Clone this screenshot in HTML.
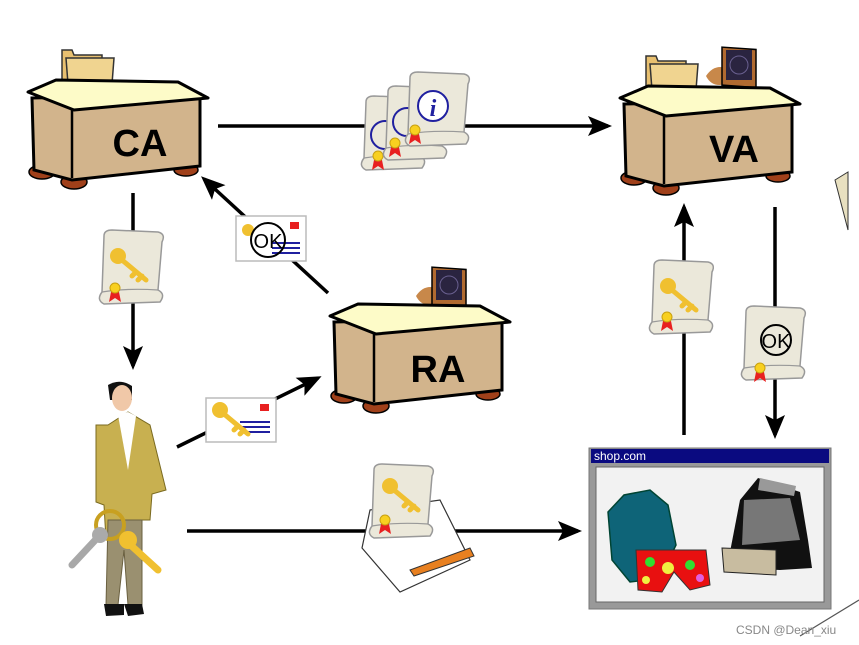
<!DOCTYPE html>
<html><head><meta charset="utf-8"><style>body{margin:0;background:#fff}svg{display:block}</style></head><body>
<svg width="859" height="645" viewBox="0 0 859 645" xmlns="http://www.w3.org/2000/svg">
<defs>
<marker id="ah" markerWidth="24" markerHeight="20" refX="20" refY="10" orient="auto" markerUnits="userSpaceOnUse" viewBox="0 0 24 20"><path d="M0,0 L24,10 L0,20 L5,10 Z" fill="#000"/></marker>
<g id="desk">
<ellipse cx="14" cy="100" rx="13" ry="7" fill="#a0401a" stroke="#000" stroke-width="1.5"/>
<ellipse cx="46" cy="110" rx="13" ry="7" fill="#a0401a" stroke="#000" stroke-width="1.5"/>
<ellipse cx="158" cy="98" rx="12" ry="6" fill="#a0401a" stroke="#000" stroke-width="1.5"/>
<path d="M4,26 L172,22 L172,94 L44,108 L6,98 Z" fill="#d2b48c" stroke="#000" stroke-width="3"/>
<path d="M44,36 L44,106" stroke="#000" stroke-width="2.5"/>
<path d="M0,20 L28,8 L150,10 L180,26 L46,38 Z" fill="#fdfbc8" stroke="#000" stroke-width="3" stroke-linejoin="round"/>
</g>
<g id="folder">
<path d="M0,0 L10,0 L12,5 L40,5 L40,30 L0,30 Z" fill="#e8c070" stroke="#333" stroke-width="1.5"/>
<path d="M4,8 L52,8 L50,34 L6,34 Z" fill="#f0d490" stroke="#333" stroke-width="1.5"/>
</g>
<g id="okboard">
<path d="M0,30 Q8,18 20,22 L20,38 Q6,42 0,30 Z" fill="#c8884a"/>
<rect x="16" y="0" width="34" height="38" fill="#b06a30" stroke="#000" stroke-width="1.5" transform="skewY(4)"/>
<rect x="20" y="4" width="26" height="30" fill="#2a2440"/>
<circle cx="33" cy="19" r="9" fill="none" stroke="#6a6090" stroke-width="1"/>
</g>
<g id="scroll">
<path d="M8,6 Q8,0 16,0 L62,2 Q70,4 66,12 L62,60 Q70,64 64,72 L8,74 Q0,70 6,62 Z" fill="#ebe8da" stroke="#999" stroke-width="1.5"/>
<path d="M6,62 Q30,58 62,60" fill="none" stroke="#999" stroke-width="1.2"/>
</g>
<g id="key">
<circle cx="0" cy="0" r="8" fill="#f0c030"/>
<path d="M4,4 L28,24 M18,16 L14,20 M24,20 L20,24" stroke="#f0c030" stroke-width="5" stroke-linecap="round"/>
</g>
<g id="seal">
<path d="M-4,4 L-6,14 L0,10 L6,14 L4,4 Z" fill="#e82020"/>
<circle cx="0" cy="0" r="5" fill="#f8d020" stroke="#c8a010"/>
</g>
</defs>

<g stroke="#000" stroke-width="3.5" fill="none">
<line x1="218" y1="126" x2="608" y2="126" marker-end="url(#ah)"/>
<line x1="133" y1="193" x2="133" y2="366" marker-end="url(#ah)"/>
<line x1="328" y1="293" x2="204" y2="179" marker-end="url(#ah)"/>
<line x1="177" y1="447" x2="318" y2="378" marker-end="url(#ah)"/>
<line x1="187" y1="531" x2="578" y2="531" marker-end="url(#ah)"/>
<line x1="684" y1="435" x2="684" y2="207" marker-end="url(#ah)"/>
<line x1="775" y1="207" x2="775" y2="435" marker-end="url(#ah)"/>
</g>

<use href="#folder" x="62" y="50"/>
<use href="#desk" x="28" y="72"/>
<text x="140" y="156" font-family="Liberation Sans, sans-serif" font-weight="bold" font-size="38" text-anchor="middle">CA</text>

<use href="#folder" x="646" y="56"/>
<use href="#okboard" x="706" y="46"/>
<use href="#desk" x="620" y="78"/>
<text x="734" y="162" font-family="Liberation Sans, sans-serif" font-weight="bold" font-size="38" text-anchor="middle">VA</text>

<use href="#okboard" x="416" y="266"/>
<use href="#desk" x="330" y="296"/>
<text x="438" y="382" font-family="Liberation Sans, sans-serif" font-weight="bold" font-size="38" text-anchor="middle">RA</text>

<g>
<use href="#scroll" x="358" y="96"/><circle cx="385" cy="135" r="14" fill="none" stroke="#2020a0" stroke-width="2"/><use href="#seal" x="378" y="156"/>
<use href="#scroll" x="380" y="86"/><circle cx="407" cy="122" r="14" fill="none" stroke="#2020a0" stroke-width="2"/><use href="#seal" x="395" y="143"/>
<use href="#scroll" x="402" y="72"/><circle cx="433" cy="106" r="15" fill="#fff" stroke="#2020a0" stroke-width="2"/>
<text x="433" y="116" font-family="Liberation Serif, serif" font-style="italic" font-weight="bold" font-size="24" fill="#2020a0" text-anchor="middle">i</text><use href="#seal" x="415" y="130"/>
</g>

<use href="#scroll" x="96" y="230"/><use href="#key" x="118" y="256"/><use href="#seal" x="115" y="288"/>
<use href="#scroll" x="646" y="260"/><use href="#key" x="668" y="286"/><use href="#seal" x="667" y="317"/>
<use href="#scroll" x="738" y="306"/><circle cx="776" cy="340" r="15" fill="none" stroke="#000" stroke-width="2"/>
<text x="776" y="348" font-family="Liberation Sans, sans-serif" font-size="20" text-anchor="middle">OK</text><use href="#seal" x="760" y="368"/>
<path d="M370,510 L440,500 L470,560 L400,592 L362,548 Z" fill="#fff" stroke="#333" stroke-width="1.2"/>
<use href="#scroll" x="366" y="464"/><use href="#key" x="390" y="486"/><use href="#seal" x="385" y="520"/>
<path d="M410,570 L470,548 L474,556 L414,576 Z" fill="#e88020" stroke="#333"/>

<rect x="236" y="216" width="70" height="45" fill="#fff" stroke="#bbb" stroke-width="1.5"/>
<rect x="290" y="222" width="9" height="7" fill="#e82020"/>
<path d="M272,243 H300 M272,248 H300 M272,253 H300" stroke="#2020a0" stroke-width="2"/>
<circle cx="248" cy="230" r="6" fill="#f0c030"/>
<circle cx="268" cy="240" r="17" fill="none" stroke="#000" stroke-width="2"/>
<text x="268" y="248" font-family="Liberation Sans, sans-serif" font-size="20" text-anchor="middle">OK</text>

<rect x="206" y="398" width="70" height="44" fill="#fff" stroke="#bbb" stroke-width="1.5"/>
<rect x="260" y="404" width="9" height="7" fill="#e82020"/>
<path d="M240,422 H270 M240,427 H270 M240,432 H270" stroke="#2020a0" stroke-width="2"/>
<use href="#key" x="220" y="410"/>

<g>
<path d="M108,385 Q120,378 132,386 L132,400 L110,400 Z" fill="#111"/>
<ellipse cx="122" cy="398" rx="10" ry="13" fill="#f0c8a8"/>
<path d="M108,425 L128,412 L150,425 L166,490 L152,494 L150,520 L142,520 L140,540 L106,540 L104,505 L96,502 L96,425 Z" fill="#c8b050" stroke="#7a6a20"/>
<path d="M118,415 L128,412 L136,416 L128,470 Z" fill="#fff"/>
<path d="M108,520 L142,520 L142,605 L128,605 L124,550 L118,605 L106,605 Z" fill="#9a9070" stroke="#6a6040"/>
<path d="M104,604 L124,604 L124,615 L106,616 Z M124,604 L142,604 L144,614 L128,616 Z" fill="#111"/>
<circle cx="110" cy="525" r="14" fill="none" stroke="#c8a020" stroke-width="4"/>
<path d="M100,535 L72,565" stroke="#a8a8a8" stroke-width="7" stroke-linecap="round"/>
<circle cx="100" cy="535" r="8" fill="#aaa"/>
<path d="M125,540 L158,570" stroke="#f0c030" stroke-width="7" stroke-linecap="round"/>
<circle cx="128" cy="540" r="9" fill="#f0c030"/>
</g>

<rect x="589" y="448" width="242" height="161" fill="#999" stroke="#777"/>
<rect x="591" y="449" width="238" height="14" fill="#0a0a80"/>
<text x="594" y="460" font-family="Liberation Sans, sans-serif" font-size="12" fill="#fff">shop.com</text>
<rect x="596" y="467" width="228" height="135" fill="#f2f2f2" stroke="#666"/>
<path d="M608,512 L624,495 L650,490 L668,505 L676,545 L660,578 L630,582 L612,560 Z" fill="#0e6478" stroke="#043" stroke-width="1.5"/>
<path d="M636,550 L706,550 L710,585 L690,590 L674,572 L662,592 L638,590 Z" fill="#e81010" stroke="#333"/>
<circle cx="650" cy="562" r="5" fill="#30e030"/><circle cx="668" cy="568" r="6" fill="#f0f040"/><circle cx="690" cy="565" r="5" fill="#30e030"/><circle cx="700" cy="578" r="4" fill="#e060e0"/><circle cx="646" cy="580" r="4" fill="#f0f040"/>
<path d="M758,478 L800,492 L808,540 L812,568 L780,570 L740,568 L730,552 L740,500 Z" fill="#111"/>
<path d="M744,500 L790,498 L800,540 L742,545 Z" fill="#777"/>
<path d="M722,548 L776,550 L776,575 L724,572 Z" fill="#c8bca0" stroke="#222"/>
<path d="M760,478 L796,486 L794,496 L758,490 Z" fill="#999"/>

<path d="M835,180 L848,172 L848,230 Z" fill="#e8e0c0" stroke="#333"/>
<path d="M800,636 L859,600" stroke="#555" stroke-width="1.2"/>
<text x="736" y="634" font-family="Liberation Sans, sans-serif" font-size="12" fill="#888">CSDN @Dean_xiu</text>
</svg>
</body></html>
